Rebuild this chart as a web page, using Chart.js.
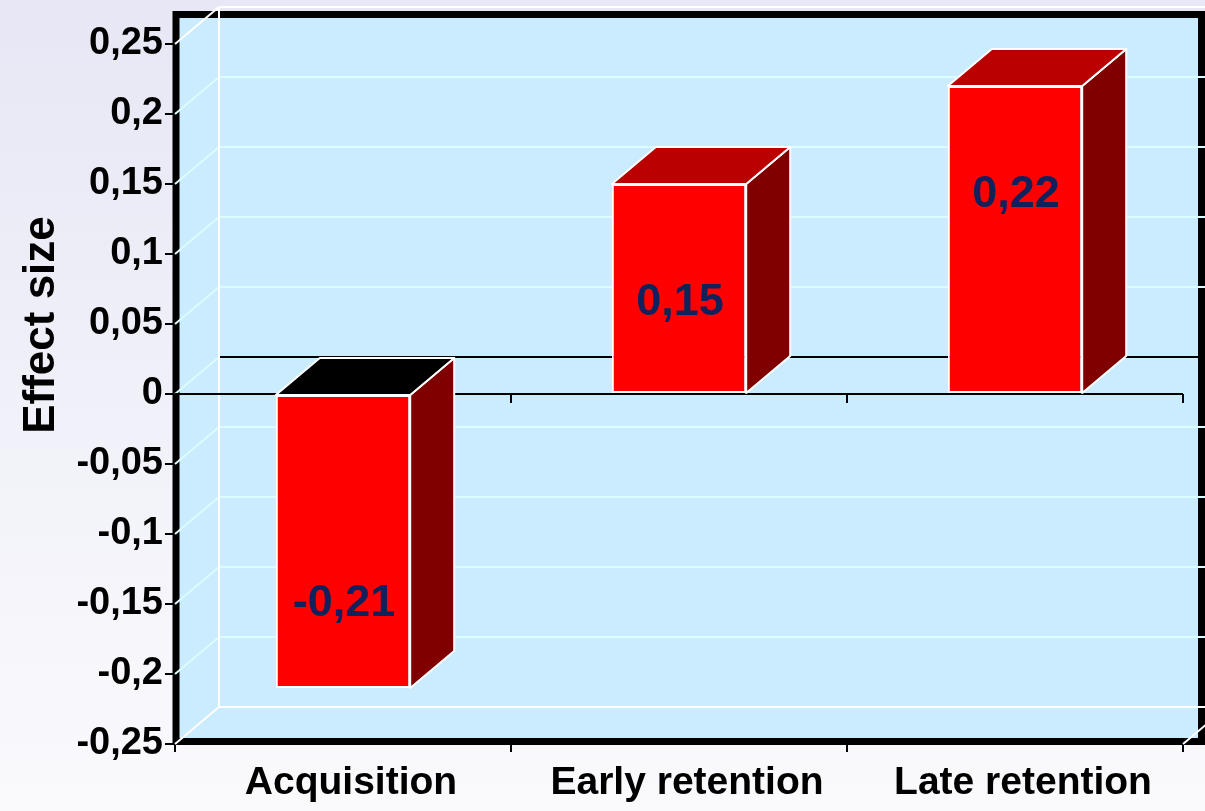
<!DOCTYPE html>
<html>
<head>
<meta charset="utf-8">
<title>Effect size</title>
<script src="https://cdn.jsdelivr.net/npm/chart.js@4.4.1/dist/chart.umd.min.js"></script>
<style>
  html, body { margin: 0; padding: 0; }
  body {
    width: 1205px;
    height: 811px;
    overflow: hidden;
    background: linear-gradient(#e7e7f5, #fafafd);
  }
  #chart { display: block; }
</style>
</head>
<body>
<canvas id="chart" width="1205" height="811"></canvas>
<script>
// chart data
const categories = ['Acquisition', 'Early retention', 'Late retention'];
const effectSizes = [-0.21, 0.15, 0.22];
const yTicks = [-0.25, -0.2, -0.15, -0.1, -0.05, 0, 0.05, 0.1, 0.15, 0.2, 0.25];
const yTitle = 'Effect size';

// 0.25 -> "0,25"
function fmt(v) {
  return String(Math.round(v * 100) / 100).replace('.', ',');
}

const FONT = '"Liberation Sans", Arial, sans-serif';

// fake 3D look, like the old PowerPoint charts
const depthPlugin = {
  id: 'depth',
  beforeDraw(chart, args, opts) {
    const { ctx } = chart;
    ctx.save();
    ctx.fillStyle = opts.wallColor;
    ctx.fillRect(176, 14, 1026, 728);
    ctx.strokeStyle = '#000';
    ctx.lineWidth = 7;
    ctx.strokeRect(176, 14.5, 1025.5, 727);
    ctx.restore();
  },
  beforeDatasetsDraw(chart, args, opts) {
    const { ctx, chartArea } = chart;
    const y = chart.scales.y;
    const x = chart.scales.x;
    const { dx, dy } = opts;
    const L = chartArea.left;
    const R = chartArea.right;
    const W = chart.width;

    ctx.save();
    ctx.lineWidth = 2;
    yTicks.forEach((v, i) => {
      const py = y.getPixelForValue(v);
      const edge = i === 0 || i === yTicks.length - 1;
      // side wall diagonal
      ctx.strokeStyle = edge ? '#fff' : opts.gridColor;
      ctx.beginPath();
      ctx.moveTo(L, py);
      ctx.lineTo(L + dx, py + dy);
      ctx.stroke();
      // back wall line
      ctx.strokeStyle = edge ? '#fff' : (v === 0 ? '#000' : opts.gridColor);
      ctx.beginPath();
      ctx.moveTo(L + dx, py + dy);
      ctx.lineTo(W, py + dy);
      ctx.stroke();
    });

    // back left corner + floor right corner
    ctx.strokeStyle = '#fff';
    ctx.beginPath();
    ctx.moveTo(L + dx, chartArea.top + dy);
    ctx.lineTo(L + dx, chartArea.bottom + dy);
    ctx.moveTo(R, chartArea.bottom);
    ctx.lineTo(R + dx, chartArea.bottom + dy);
    ctx.stroke();

    // front zero line with category ticks
    const y0 = y.getPixelForValue(0);
    ctx.strokeStyle = '#000';
    ctx.beginPath();
    ctx.moveTo(L, y0);
    ctx.lineTo(R, y0);
    for (let i = 1; i <= categories.length; i++) {
      const px = Math.round((x.getPixelForValue(i - 1) + x.getPixelForValue(i)) / 2);
      const tx = i === categories.length ? R : px;
      ctx.moveTo(tx, y0);
      ctx.lineTo(tx, y0 + 9);
    }
    ctx.stroke();
    ctx.restore();
  },
  afterDatasetsDraw(chart, args, opts) {
    const { ctx } = chart;
    const { dx, dy } = opts;
    const meta = chart.getDatasetMeta(0);
    ctx.save();
    ctx.lineWidth = 2;
    ctx.lineJoin = 'round';
    ctx.strokeStyle = '#fff';
    meta.data.forEach((bar, i) => {
      const p = bar.getProps(['x', 'y', 'base', 'width'], true);
      const xl = p.x - p.width / 2;
      const xr = p.x + p.width / 2;
      const yt = Math.min(p.y, p.base);
      const yb = Math.max(p.y, p.base);

      // side face
      ctx.fillStyle = opts.sideColor;
      ctx.beginPath();
      ctx.moveTo(xr, yt);
      ctx.lineTo(xr + dx, yt + dy);
      ctx.lineTo(xr + dx, yb + dy);
      ctx.lineTo(xr, yb);
      ctx.closePath();
      ctx.fill();
      ctx.stroke();

      // top face
      ctx.fillStyle = effectSizes[i] < 0 ? opts.baseColor : opts.topColor;
      ctx.beginPath();
      ctx.moveTo(xl, yt);
      ctx.lineTo(xl + dx, yt + dy);
      ctx.lineTo(xr + dx, yt + dy);
      ctx.lineTo(xr, yt);
      ctx.closePath();
      ctx.fill();
      ctx.stroke();

      // value label
      ctx.fillStyle = opts.labelColor;
      ctx.font = 'bold 45px ' + FONT;
      ctx.textAlign = 'center';
      ctx.textBaseline = 'middle';
      ctx.fillText(fmt(effectSizes[i]), p.x + 1, p.y + opts.labelShift[i]);
    });
    ctx.restore();
  },
  afterDraw(chart) {
    const { ctx } = chart;
    ctx.save();
    ctx.translate(54, 325);
    ctx.rotate(-Math.PI / 2);
    ctx.fillStyle = '#000';
    ctx.font = 'bold 44px ' + FONT;
    ctx.textAlign = 'center';
    ctx.textBaseline = 'alphabetic';
    ctx.fillText(yTitle, 0, 0);
    ctx.restore();
  },
};

const ctx = document.getElementById('chart').getContext('2d');
const chart = new Chart(ctx, {
  type: 'bar',
  data: {
    labels: categories,
    datasets: [
      {
        data: effectSizes,
        backgroundColor: '#ff0000',
        borderColor: '#ffffff',
        borderWidth: 2,
        borderSkipped: false,
        barPercentage: 0.5,
        categoryPercentage: 0.8,
      },
    ],
  },
  plugins: [depthPlugin],
  options: {
    responsive: false,
    animation: false,
    layout: { padding: { top: 44, right: 22, left: 0, bottom: 0 } },
    plugins: {
      legend: { display: false },
      tooltip: { enabled: false },
      depth: {
        dx: 44,
        dy: -37,
        wallColor: '#cbebfe',
        gridColor: '#dcfdff',
        sideColor: '#800000',
        topColor: '#bb0000',
        baseColor: '#000000',
        labelColor: '#10215c',
        labelShift: [-84, 119, 109],
      },
    },
    scales: {
      x: {
        afterFit: (s) => { s.height = 67; },
        grid: {
          drawOnChartArea: false,
          offset: true,
          tickLength: 8,
          color: '#000',
          lineWidth: 2,
        },
        border: { display: false },
        ticks: {
          color: '#000',
          font: { family: FONT, size: 39, weight: 'bold' },
          padding: 8,
          labelOffset: 8,
          maxRotation: 0,
          autoSkip: false,
        },
      },
      y: {
        min: -0.25,
        max: 0.25,
        afterFit: (s) => { s.width = 175; },
        afterBuildTicks: (s) => { s.ticks = yTicks.map((v) => ({ value: v })); },
        grid: {
          drawOnChartArea: false,
          tickLength: 10,
          color: '#000',
          lineWidth: 2,
        },
        border: { display: false },
        ticks: {
          color: '#000',
          font: { family: FONT, size: 38, weight: 'bold' },
          padding: 2,
          callback: (v) => fmt(v),
        },
      },
    },
  },
});
</script>
</body>
</html>
